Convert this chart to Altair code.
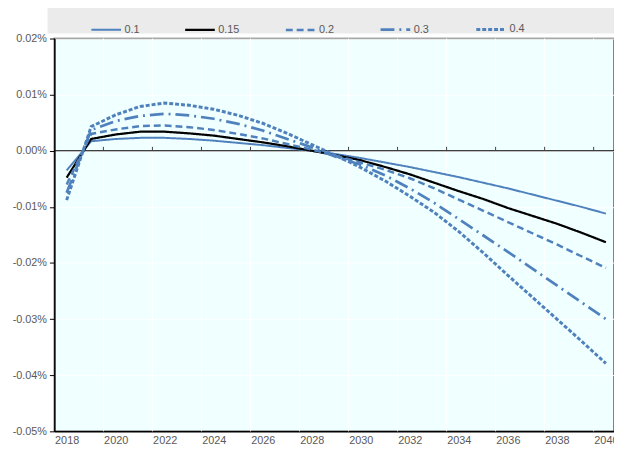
import altair as alt
import pandas as pd

years = list(range(2018, 2041))
series_labels = ["0.1", "0.15", "0.2", "0.3", "0.4"]

# values in percent
s_01 = [-0.0035, 0.0017, 0.0021, 0.0023, 0.0023, 0.0021, 0.0018, 0.0014, 0.0010, 0.0005, 0.0000,
        -0.0006, -0.0013, -0.0021, -0.0029, -0.0038, -0.0047, -0.0057, -0.0067, -0.0078, -0.0089,
        -0.0100, -0.0112]
s_015 = [-0.0048, 0.0021, 0.0029, 0.0034, 0.0034, 0.0031, 0.0027, 0.0021, 0.0015, 0.0008, 0.0000,
         -0.0008, -0.0017, -0.0029, -0.0042, -0.0057, -0.0072, -0.0086, -0.0102, -0.0116, -0.0130,
         -0.0146, -0.0163]
s_02 = [-0.0060, 0.0030, 0.0038, 0.0044, 0.0045, 0.0042, 0.0037, 0.0030, 0.0022, 0.0012, 0.0002,
        -0.0009, -0.0021, -0.0034, -0.0049, -0.0067, -0.0087, -0.0107, -0.0127, -0.0147, -0.0167,
        -0.0188, -0.0209]
s_03 = [-0.0075, 0.0037, 0.0053, 0.0062, 0.0066, 0.0063, 0.0057, 0.0048, 0.0036, 0.0021, 0.0006,
        -0.0011, -0.0025, -0.0044, -0.0067, -0.0093, -0.0122, -0.0151, -0.0180, -0.0210, -0.0240,
        -0.0270, -0.0300]
s_04 = [-0.0088, 0.0043, 0.0064, 0.0079, 0.0085, 0.0081, 0.0074, 0.0063, 0.0049, 0.0031, 0.0011,
        -0.0009, -0.0030, -0.0054, -0.0081, -0.0110, -0.0144, -0.0182, -0.0222, -0.0261, -0.0300,
        -0.0339, -0.0379]

y_ticks = [0.0002, 0.0001, 0.0, -0.0001, -0.0002, -0.0003, -0.0004, -0.0005]
x_labels = list(range(2018, 2041, 2))
between_ticks = [y + 0.5 for y in range(2019, 2040, 2)]

rows = []
for lab, vals in zip(series_labels, [s_01, s_015, s_02, s_03, s_04]):
    for yr, v in zip(years, vals):
        rows.append({"year": yr, "value": v / 100.0, "series": lab})
df = pd.DataFrame(rows)
tick_df = pd.DataFrame({"pos": between_ticks})

FONT = "Liberation Sans Narrow, Arial Narrow, Liberation Sans, sans-serif"
BLUE = "#4F81BD"
GREY_TXT = "#595959"

xscale = alt.Scale(domain=[2017.5, 2040.33], nice=False, zero=False)
yscale = alt.Scale(domain=[-0.0005, 0.0002], nice=False, zero=False)

x_axis = alt.Axis(values=x_labels, format="d", ticks=False, grid=False,
                  domainColor="#000000", domainWidth=1.5, labelColor=GREY_TXT,
                  labelFontSize=11, labelFont=FONT, labelPadding=3,
                  labelFlush=False, labelOverlap=False, title=None)
y_axis = alt.Axis(values=y_ticks, tickSize=5, tickColor="#000000",
                  domainColor="#000000", domainWidth=1.5, grid=True,
                  gridColor="#FFFFFF", labelColor=GREY_TXT, labelFontSize=11,
                  labelFont=FONT, labelPadding=3, title=None,
                  labelExpr="(datum.value < -1e-9 ? '-' : '') + format(abs(datum.value) * 100, '.2f') + '%'")

legend = alt.Legend(
    orient="none", legendX=36, legendY=-26, direction="horizontal", columns=5,
    columnPadding=41, symbolType="stroke", symbolSize=900, labelOffset=2,
    labelFontSize=11, labelColor=GREY_TXT, labelFont=FONT, title=None, padding=0,
)

bg = alt.Chart(pd.DataFrame({"k": [0]})).mark_rect(color="#EBEBEB").encode(
    x=alt.value(-7), x2=alt.value(600), y=alt.value(-33), y2=alt.value(-5)
)

vgrid = alt.Chart(tick_df).mark_rule(color="#FFFFFF", strokeWidth=1).encode(
    x=alt.X("pos:Q", scale=xscale, axis=x_axis)
)

zero_line = alt.Chart(pd.DataFrame({"k": [0]})).mark_rule(color="#000000", strokeWidth=1.2).encode(
    y=alt.Y("k:Q", scale=yscale, axis=y_axis)
)

ticks = alt.Chart(tick_df).mark_rule(color="#404040", strokeWidth=1).encode(
    x=alt.X("pos:Q", scale=xscale, axis=x_axis),
    y=alt.datum(0.0),
    y2=alt.datum(0.000007),
)

lines = alt.Chart(df).mark_line(clip=True, strokeCap="butt").encode(
    x=alt.X("year:Q", scale=xscale, axis=x_axis),
    y=alt.Y("value:Q", scale=yscale, axis=y_axis),
    color=alt.Color("series:N", scale=alt.Scale(domain=series_labels,
                                                 range=[BLUE, "#000000", BLUE, BLUE, BLUE]),
                    legend=legend),
    strokeDash=alt.StrokeDash("series:N", scale=alt.Scale(domain=series_labels,
                                                           range=[[1, 0], [1, 0], [7, 4], [14, 5, 2, 5], [4, 2]]),
                              legend=legend),
    strokeWidth=alt.StrokeWidth("series:N", scale=alt.Scale(domain=series_labels,
                                                             range=[2, 3, 2, 2, 2]),
                                legend=legend),
)

chart = alt.layer(bg, vgrid, zero_line, ticks, lines).properties(
    width=567, height=398,
    autosize=alt.AutoSizeParams(type="none"),
    padding={"left": 47, "top": 28, "right": 0, "bottom": 18},
).configure_view(
    fill="#F0FFFF", stroke="#595959", strokeWidth=1.5
)

chart.save("out.html", embed_options={"renderer": "svg", "actions": False})
